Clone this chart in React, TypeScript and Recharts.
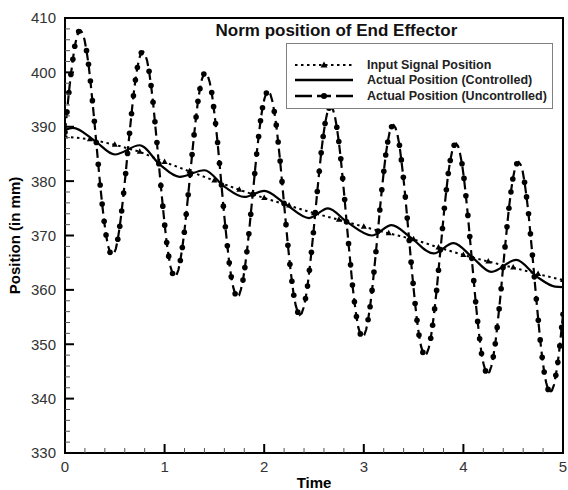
import React from "react";
import {
  Legend,
  Line,
  LineChart,
  ReferenceArea,
  XAxis,
  YAxis,
} from "recharts";

/* ────────── end effector position vs time ────────── */

// input signal (dotted, triangles)
const inputTime = [0, 0.25, 0.5, 0.75, 1, 1.25, 1.5, 1.75, 2, 2.25, 2.5, 2.75, 3, 3.25, 3.5, 3.75, 4, 4.25, 4.5, 4.75, 5];
const inputPos = [388.2, 387.7, 386.7, 385.4, 383.5, 381.8, 380.1, 378.4, 376.9, 375.5, 374.1, 372.9, 371.6, 370.4, 369.3, 367.8, 366.4, 365.2, 364.1, 362.9, 361.8];

// controlled response (solid)
const ctrlTime = [0, 0.08, 0.3, 0.5, 0.75, 0.95, 1.15, 1.4, 1.6, 1.8, 2.0, 2.22, 2.45, 2.64, 2.83, 3.08, 3.28, 3.46, 3.7, 3.9, 4.1, 4.28, 4.53, 4.74, 4.92, 5];
const ctrlPos = [389.4, 389.8, 387.4, 384.9, 386.6, 383.1, 380.8, 382.0, 379.0, 377.1, 378.2, 375.7, 373.2, 375.0, 372.5, 370.0, 371.9, 369.8, 366.7, 368.6, 365.8, 363.3, 365.5, 362.4, 360.6, 360.5];

// uncontrolled response (dashed, dots)
const uncTime = [
  0, 0.02, 0.039, 0.059, 0.079, 0.098, 0.118, 0.137, 0.157, 0.177, 0.196, 0.216, 0.236, 0.255, 0.275, 0.295,
  0.314, 0.334, 0.353, 0.373, 0.393, 0.412, 0.432, 0.452, 0.471, 0.491, 0.511, 0.53, 0.55, 0.569, 0.589, 0.609,
  0.628, 0.648, 0.668, 0.687, 0.707, 0.727, 0.746, 0.766, 0.785, 0.805, 0.825, 0.844, 0.864, 0.884, 0.903, 0.923,
  0.942, 0.962, 0.982, 1.001, 1.021, 1.041, 1.06, 1.08, 1.1, 1.119, 1.139, 1.158, 1.178, 1.198, 1.217, 1.237,
  1.257, 1.276, 1.296, 1.316, 1.335, 1.355, 1.374, 1.394, 1.414, 1.433, 1.453, 1.473, 1.492, 1.512, 1.532, 1.551,
  1.571, 1.59, 1.61, 1.63, 1.649, 1.669, 1.689, 1.708, 1.728, 1.748, 1.767, 1.787, 1.806, 1.826, 1.846, 1.865,
  1.885, 1.905, 1.924, 1.944, 1.963, 1.983, 2.003, 2.022, 2.042, 2.062, 2.081, 2.101, 2.121, 2.14, 2.16, 2.179,
  2.199, 2.219, 2.238, 2.258, 2.278, 2.297, 2.317, 2.337, 2.356, 2.376, 2.395, 2.415, 2.435, 2.454, 2.474, 2.494,
  2.513, 2.533, 2.553, 2.572, 2.592, 2.611, 2.631, 2.651, 2.67, 2.69, 2.71, 2.729, 2.749, 2.769, 2.788, 2.808,
  2.827, 2.847, 2.867, 2.886, 2.906, 2.926, 2.945, 2.965, 2.985, 3.004, 3.024, 3.043, 3.063, 3.083, 3.102, 3.122,
  3.142, 3.161, 3.181, 3.201, 3.22, 3.24, 3.259, 3.279, 3.299, 3.318, 3.338, 3.358, 3.377, 3.397, 3.417, 3.436,
  3.456, 3.475, 3.495, 3.515, 3.534, 3.554, 3.574, 3.593, 3.613, 3.632, 3.652, 3.672, 3.691, 3.711, 3.731, 3.75,
  3.77, 3.79, 3.809, 3.829, 3.848, 3.868, 3.888, 3.907, 3.927, 3.947, 3.966, 3.986, 4.006, 4.025, 4.045, 4.064,
  4.084, 4.104, 4.123, 4.143, 4.163, 4.182, 4.202, 4.222, 4.241, 4.261, 4.28, 4.3, 4.32, 4.339, 4.359, 4.379,
  4.398, 4.418, 4.438, 4.457, 4.477, 4.496, 4.516, 4.536, 4.555, 4.575, 4.595, 4.614, 4.634, 4.654, 4.673, 4.693,
  4.712, 4.732, 4.752, 4.771, 4.791, 4.811, 4.83, 4.85, 4.869, 4.889, 4.909, 4.928, 4.948, 4.968, 4.987, 5,
];
const uncPos = [
  389.0, 392.7, 396.3, 399.6, 402.4, 404.8, 406.5, 407.5, 407.7, 407.2, 406.0, 404.0, 401.5, 398.4, 394.8, 391.0,
  387.1, 383.1, 379.3, 375.8, 372.6, 370.1, 368.1, 366.9, 366.4, 366.6, 367.6, 369.3, 371.7, 374.5, 377.8, 381.4,
  385.1, 388.8, 392.4, 395.7, 398.6, 400.9, 402.6, 403.6, 403.8, 403.3, 402.1, 400.2, 397.6, 394.5, 390.9, 387.1,
  383.2, 379.2, 375.4, 371.9, 368.7, 366.2, 364.2, 363.0, 362.5, 362.7, 363.7, 365.4, 367.8, 370.6, 373.9, 377.5,
  381.2, 384.9, 388.5, 391.8, 394.7, 397.0, 398.7, 399.7, 399.9, 399.4, 398.2, 396.3, 393.7, 390.6, 387.1, 383.3,
  379.3, 375.4, 371.6, 368.1, 365.0, 362.4, 360.5, 359.3, 358.8, 359.0, 360.1, 361.8, 364.1, 367.0, 370.3, 373.9,
  377.6, 381.4, 385.0, 388.2, 391.1, 393.5, 395.2, 396.2, 396.5, 396.0, 394.8, 392.8, 390.3, 387.2, 383.7, 379.9,
  375.9, 372.0, 368.2, 364.7, 361.6, 359.0, 357.1, 355.9, 355.4, 355.7, 356.7, 358.4, 360.7, 363.6, 366.9, 370.5,
  374.2, 378.1, 381.8, 385.2, 388.2, 390.6, 392.4, 393.4, 393.7, 393.2, 391.9, 389.9, 387.3, 384.1, 380.5, 376.6,
  372.5, 368.5, 364.6, 360.9, 357.8, 355.1, 353.1, 351.9, 351.4, 351.7, 352.7, 354.5, 356.9, 359.9, 363.3, 367.0,
  370.8, 374.7, 378.4, 381.8, 384.8, 387.2, 389.0, 390.0, 390.3, 389.8, 388.5, 386.6, 383.9, 380.7, 377.1, 373.2,
  369.1, 365.1, 361.2, 357.5, 354.4, 351.7, 349.7, 348.5, 348.0, 348.3, 349.3, 351.1, 353.5, 356.5, 359.9, 363.6,
  367.4, 371.3, 375.0, 378.4, 381.4, 383.8, 385.6, 386.6, 386.9, 386.4, 385.1, 383.2, 380.5, 377.3, 373.7, 369.8,
  365.8, 361.7, 357.8, 354.2, 351.0, 348.3, 346.4, 345.1, 344.6, 344.9, 345.9, 347.7, 350.1, 353.1, 356.5, 360.2,
  364.1, 367.9, 371.6, 375.0, 378.0, 380.4, 382.2, 383.2, 383.5, 383.0, 381.8, 379.8, 377.1, 374.0, 370.3, 366.4,
  362.4, 358.3, 354.4, 350.8, 347.6, 344.9, 343.0, 341.7, 341.2, 341.5, 342.5, 344.3, 346.7, 349.7, 353.1, 355.5,
];

const xTicks = [0, 0.2, 0.4, 0.6, 0.8, 1, 1.2, 1.4, 1.6, 1.8, 2, 2.2, 2.4, 2.6, 2.8, 3, 3.2, 3.4, 3.6, 3.8, 4, 4.2, 4.4, 4.6, 4.8, 5];
const xMajor = [0, 1, 2, 3, 4, 5];
const yTicks = [
  330, 332, 334, 336, 338, 340, 342, 344, 346, 348, 350, 352, 354, 356, 358, 360, 362, 364, 366, 368, 370,
  372, 374, 376, 378, 380, 382, 384, 386, 388, 390, 392, 394, 396, 398, 400, 402, 404, 406, 408, 410,
];
const yMajor = [330, 340, 350, 360, 370, 380, 390, 400, 410];

const inputData = inputTime.map((t, i) => ({ t, v: inputPos[i] }));
const ctrlData = ctrlTime.map((t, i) => ({ t, v: ctrlPos[i] }));
const uncData = uncTime.map((t, i) => ({ t, v: uncPos[i] }));

const FONT = "'Liberation Sans', Arial, Helvetica, sans-serif";
const X_MARGIN = 8;
const Y_MARGIN = 9;

function XTick(props: any) {
  const { x, y, payload } = props;
  const major = xMajor.includes(payload.value);
  const ay = y - X_MARGIN;
  return (
    <g>
      <line
        x1={x}
        x2={x}
        y1={ay}
        y2={ay - (major ? 9 : 5)}
        stroke={major ? "#000" : "#555"}
        strokeWidth={major ? 2 : 1}
      />
      {major && (
        <text x={x} y={y} dy="0.71em" textAnchor="middle" fontSize={15} fill="#333">
          {payload.value}
        </text>
      )}
    </g>
  );
}

function YTick(props: any) {
  const { x, y, payload } = props;
  const major = yMajor.includes(payload.value);
  const ax = x + Y_MARGIN;
  return (
    <g>
      <line
        x1={ax}
        x2={ax + (major ? 9 : 5)}
        y1={y}
        y2={y}
        stroke={major ? "#000" : "#555"}
        strokeWidth={major ? 2 : 1}
      />
      {major && (
        <text x={x} y={y} dy="0.36em" textAnchor="end" fontSize={15} fill="#333">
          {payload.value}
        </text>
      )}
    </g>
  );
}

// keep markers roughly evenly spaced along the curve
let lastDot: { x: number; y: number } | null = null;
function UncDot(props: any) {
  const { cx, cy, index } = props;
  if (index === 0) lastDot = null;
  if (cx == null || cy == null) return <g key={`u${index}`} />;
  if (lastDot && Math.hypot(cx - lastDot.x, cy - lastDot.y) < 12) return <g key={`u${index}`} />;
  lastDot = { x: cx, y: cy };
  return <circle key={`u${index}`} cx={cx} cy={cy} r={2.8} fill="#000" />;
}

function TriDot(props: any) {
  const { cx, cy, index } = props;
  if (cx == null || cy == null) return <g key={`i${index}`} />;
  return (
    <polygon
      key={`i${index}`}
      points={`${cx},${cy - 3.5} ${cx - 3},${cy + 2} ${cx + 3},${cy + 2}`}
      fill="#000"
    />
  );
}

function LegendBox() {
  const row = { display: "flex", alignItems: "center", justifyContent: "flex-start", height: 15.5 } as const;
  const txt = { fontSize: 12.5, fontWeight: 700, color: "#222", whiteSpace: "nowrap" } as const;
  return (
    <div
      style={{
        width: 267,
        height: 66,
        boxSizing: "border-box",
        border: "1px solid #808080",
        background: "#fff",
        padding: "13px 0 0 8px",
        fontFamily: FONT,
        textAlign: "left",
      }}
    >
      <div style={row}>
        <svg width={58} height={10} style={{ marginRight: 14, flex: "none" }}>
          <line x1={0} x2={58} y1={5} y2={5} stroke="#000" strokeWidth={2} strokeDasharray="2.5 3.5" />
          <polygon points="29,1.5 25.5,7.5 32.5,7.5" fill="#000" />
        </svg>
        <span style={txt}>Input Signal Position</span>
      </div>
      <div style={row}>
        <svg width={58} height={10} style={{ marginRight: 14, flex: "none" }}>
          <line x1={0} x2={58} y1={5} y2={5} stroke="#000" strokeWidth={2.5} />
        </svg>
        <span style={txt}>Actual Position (Controlled)</span>
      </div>
      <div style={row}>
        <svg width={58} height={10} style={{ marginRight: 14, flex: "none" }}>
          <line x1={0} x2={17} y1={5} y2={5} stroke="#000" strokeWidth={2.5} />
          <line x1={22} x2={36} y1={5} y2={5} stroke="#000" strokeWidth={2.5} />
          <circle cx={29} cy={5} r={3} fill="#000" />
          <line x1={41} x2={58} y1={5} y2={5} stroke="#000" strokeWidth={2.5} />
        </svg>
        <span style={txt}>Actual Position (Uncontrolled)</span>
      </div>
    </div>
  );
}

export default function App() {
  return (
    <div
      style={{
        position: "absolute",
        left: 0,
        top: 0,
        width: 568,
        height: 490,
        background: "#fff",
        fontFamily: FONT,
      }}
    >
      <LineChart width={568} height={490} margin={{ top: 18, right: 5, bottom: 0, left: 0 }}>
        <XAxis
          type="number"
          dataKey="t"
          domain={[0, 5]}
          ticks={xTicks}
          interval={0}
          allowDataOverflow
          height={37}
          tickSize={0}
          tickMargin={X_MARGIN}
          tickLine={false}
          axisLine={{ stroke: "#000", strokeWidth: 2 }}
          tick={(p: any) => <XTick {...p} />}
          label={{
            content: (p: any) => {
              const vb = p.viewBox;
              return (
                <text
                  x={vb.x + vb.width / 2}
                  y={vb.y + 35}
                  textAnchor="middle"
                  fontSize={15}
                  fontWeight={700}
                  fill="#000"
                >
                  Time
                </text>
              );
            },
          }}
        />
        <YAxis
          type="number"
          domain={[330, 410]}
          ticks={yTicks}
          interval={0}
          allowDataOverflow
          width={65}
          tickSize={0}
          tickMargin={Y_MARGIN}
          tickLine={false}
          axisLine={{ stroke: "#000", strokeWidth: 2 }}
          tick={(p: any) => <YTick {...p} />}
          label={{
            content: (p: any) => {
              const vb = p.viewBox;
              const cx = vb.x + 15;
              const cy = vb.y + vb.height / 2;
              return (
                <text
                  x={cx}
                  y={cy}
                  dy="0.36em"
                  textAnchor="middle"
                  fontSize={15}
                  fontWeight={700}
                  fill="#000"
                  transform={`rotate(-90, ${cx}, ${cy})`}
                >
                  Position (in mm)
                </text>
              );
            },
          }}
        />
        <ReferenceArea
          x1={0}
          x2={5}
          y1={330}
          y2={410}
          fill="none"
          fillOpacity={0}
          stroke="#000"
          strokeWidth={2}
          label={{
            content: (p: any) => {
              const vb = p.viewBox;
              return (
                <text
                  x={vb.x + vb.width * 0.545}
                  y={vb.y + 18}
                  textAnchor="middle"
                  fontSize={17}
                  fontWeight={700}
                  fill="#111"
                >
                  Norm position of End Effector
                </text>
              );
            },
          }}
        />
        <Line
          data={inputData}
          dataKey="v"
          name="Input Signal Position"
          type="linear"
          stroke="#000"
          strokeWidth={2}
          strokeDasharray="2.5 3.5"
          dot={(p: any) => <TriDot {...p} />}
          activeDot={false}
          isAnimationActive={false}
        />
        <Line
          data={ctrlData}
          dataKey="v"
          name="Actual Position (Controlled)"
          type="monotone"
          stroke="#000"
          strokeWidth={2.2}
          dot={false}
          activeDot={false}
          isAnimationActive={false}
        />
        <Line
          data={uncData}
          dataKey="v"
          name="Actual Position (Uncontrolled)"
          type="linear"
          stroke="#000"
          strokeWidth={2.2}
          strokeDasharray="9 5"
          dot={(p: any) => <UncDot {...p} />}
          activeDot={false}
          isAnimationActive={false}
        />
        <Legend
          layout="vertical"
          align="center"
          verticalAlign="middle"
          content={() => <LegendBox />}
          wrapperStyle={{ left: 286, top: 43, width: 267, height: 66 }}
        />
      </LineChart>
    </div>
  );
}
